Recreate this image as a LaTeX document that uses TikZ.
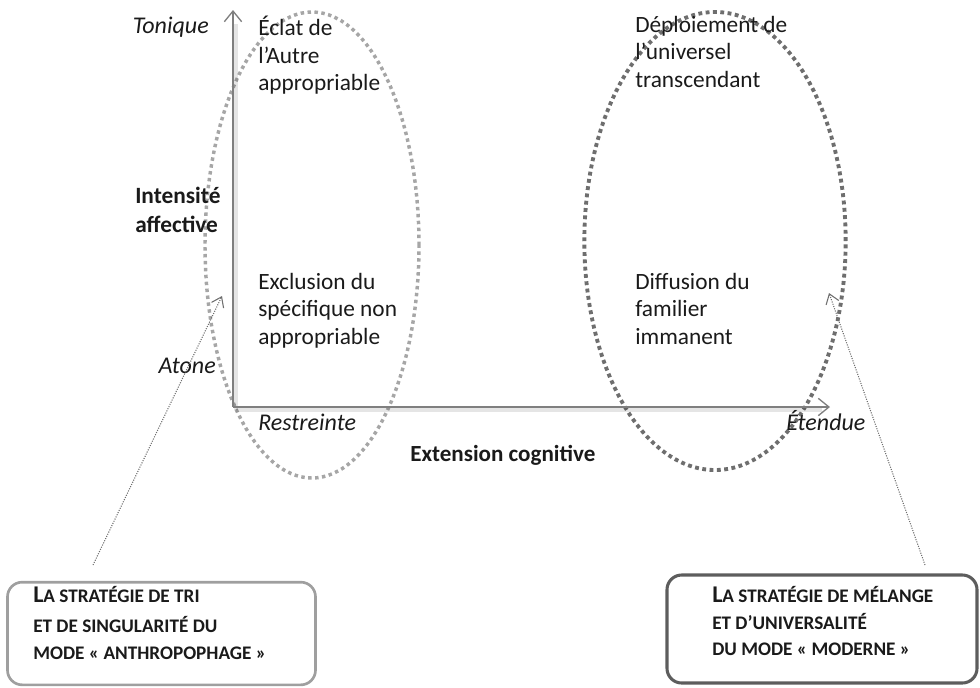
\documentclass[tikz,border=0pt]{standalone}
\usepackage{fontspec}
\setmainfont{Carlito}
\usetikzlibrary{arrows.meta,shapes.geometric}
\definecolor{axisgray}{HTML}{7F7F7F}
\definecolor{lightdot}{HTML}{A6A6A6}
\definecolor{darkdot}{HTML}{6E6E6E}
\definecolor{txt}{HTML}{1A1A1A}
\newcommand\bigsc[1]{{\fontsize{18}{20}\selectfont #1}}
\newcommand\smsc[1]{{\fontsize{14.4}{16}\selectfont #1}}
\begin{document}
\begin{tikzpicture}[x=0.75pt,y=-0.75pt,
  every node/.style={inner sep=0pt,text=txt},
  maintext/.style={font=\fontsize{17.5}{20.6}\selectfont,align=left,anchor=north west},
  axislabel/.style={font=\fontsize{18}{20}\selectfont\itshape},
  boldlabel/.style={font=\fontsize{17.5}{21.75}\selectfont\bfseries,align=left},
  axisline/.style={draw=axisgray,line width=1.1pt,-{Straight Barb[length=8pt,width=13pt,line width=1pt]}},
  axisshadow/.style={draw=black,opacity=0.10,line width=3pt},
  ellleft/.style={ellipse,draw=lightdot,line width=2.6pt,dash pattern=on 2.6pt off 2.6pt,minimum width=160.5pt,minimum height=349.5pt},
  ellright/.style={ellipse,draw=darkdot,line width=2.9pt,dash pattern=on 2.9pt off 2.6pt,minimum width=196pt,minimum height=343.5pt},
  pointer/.style={draw=darkdot,line width=0.8pt,dash pattern=on 0.8pt off 1pt,-{Straight Barb[length=7pt,width=10pt,line width=0.8pt]}},
  leftbox/.style={draw=gray!75,line width=2pt,rounded corners=11pt,minimum width=231pt,minimum height=77pt},
  rightbox/.style={draw=darkdot!85!black,line width=2.3pt,rounded corners=11pt,minimum width=232.5pt,minimum height=81pt},
  boxtext/.style={font=\bfseries,align=left,anchor=base west}
]
\useasboundingbox (0,0) rectangle (980,687);

% ellipses
\node[ellleft] (eL) at (312,245) {};
\node[ellright] (eR) at (715,241) {};

% axes
\coordinate (O) at (233,407);
\coordinate (T) at (233,10);
\coordinate (E) at (830,407);
\draw[axisshadow] ([shift={(3,3)}]O) -- ([shift={(-8,3)}]E);
\draw[axisshadow] ([shift={(3,3)}]O) -- ([shift={(3,14)}]T);
\draw[axisline] (O) -- (T);
\draw[axisline] (O) -- (E);

% axis labels
\node[axislabel,anchor=base east] (ton) at (209,33) {Tonique};
\node[axislabel,anchor=base east] (aton) at (216,373) {Atone};
\node[axislabel,anchor=base west] (res) at (258,430) {Restreinte};
\node[axislabel,anchor=base west] (ete) at (786,430) {Étendue};
\node[boldlabel,anchor=base west] (int1) at (135,203) {Intensité};
\node[boldlabel,anchor=base west] (int2) at (135,232) {affective};
\node[font=\fontsize{17.3}{20}\selectfont\bfseries,anchor=base west] (ext) at (410,461) {Extension cognitive};

% quadrant texts
\node[maintext] (q1) at (258,16) {Éclat de\\l’Autre\\appropriable};
\node[maintext] (q2) at (635,16) {Déploiement de\\l’universel\\transcendant};
\node[maintext] (q3) at (258,273) {Exclusion du\\spécifique non\\appropriable};
\node[maintext] (q4) at (635,273) {Diffusion du\\familier\\immanent};

% boxes
\node[leftbox] (bL) at (161.5,633.5) {};
\node[rightbox] (bR) at (822,629) {};

\node[boxtext] (bL1) at (33,602) {\bigsc{L}\smsc{A STRATÉGIE DE TRI}};
\node[boxtext] (bL2) at (33,632) {\smsc{ET DE SINGULARITÉ DU}};
\node[boxtext] (bL3) at (33,659) {\smsc{MODE « ANTHROPOPHAGE »}};
\node[boxtext] (bR1) at (712,602) {\bigsc{L}\smsc{A STRATÉGIE DE MÉLANGE}};
\node[boxtext] (bR2) at (712,629) {\smsc{ET D’UNIVERSALITÉ}};
\node[boxtext] (bR3) at (712,655) {\smsc{DU MODE « MODERNE »}};

% pointers
\coordinate (pL) at (93,565);
\coordinate (tL) at (222,296);
\coordinate (pR) at (925,565);
\coordinate (tR) at (829,293);
\draw[pointer] (pL) -- (tL);
\draw[pointer] (pR) -- (tR);
\end{tikzpicture}
\end{document}
